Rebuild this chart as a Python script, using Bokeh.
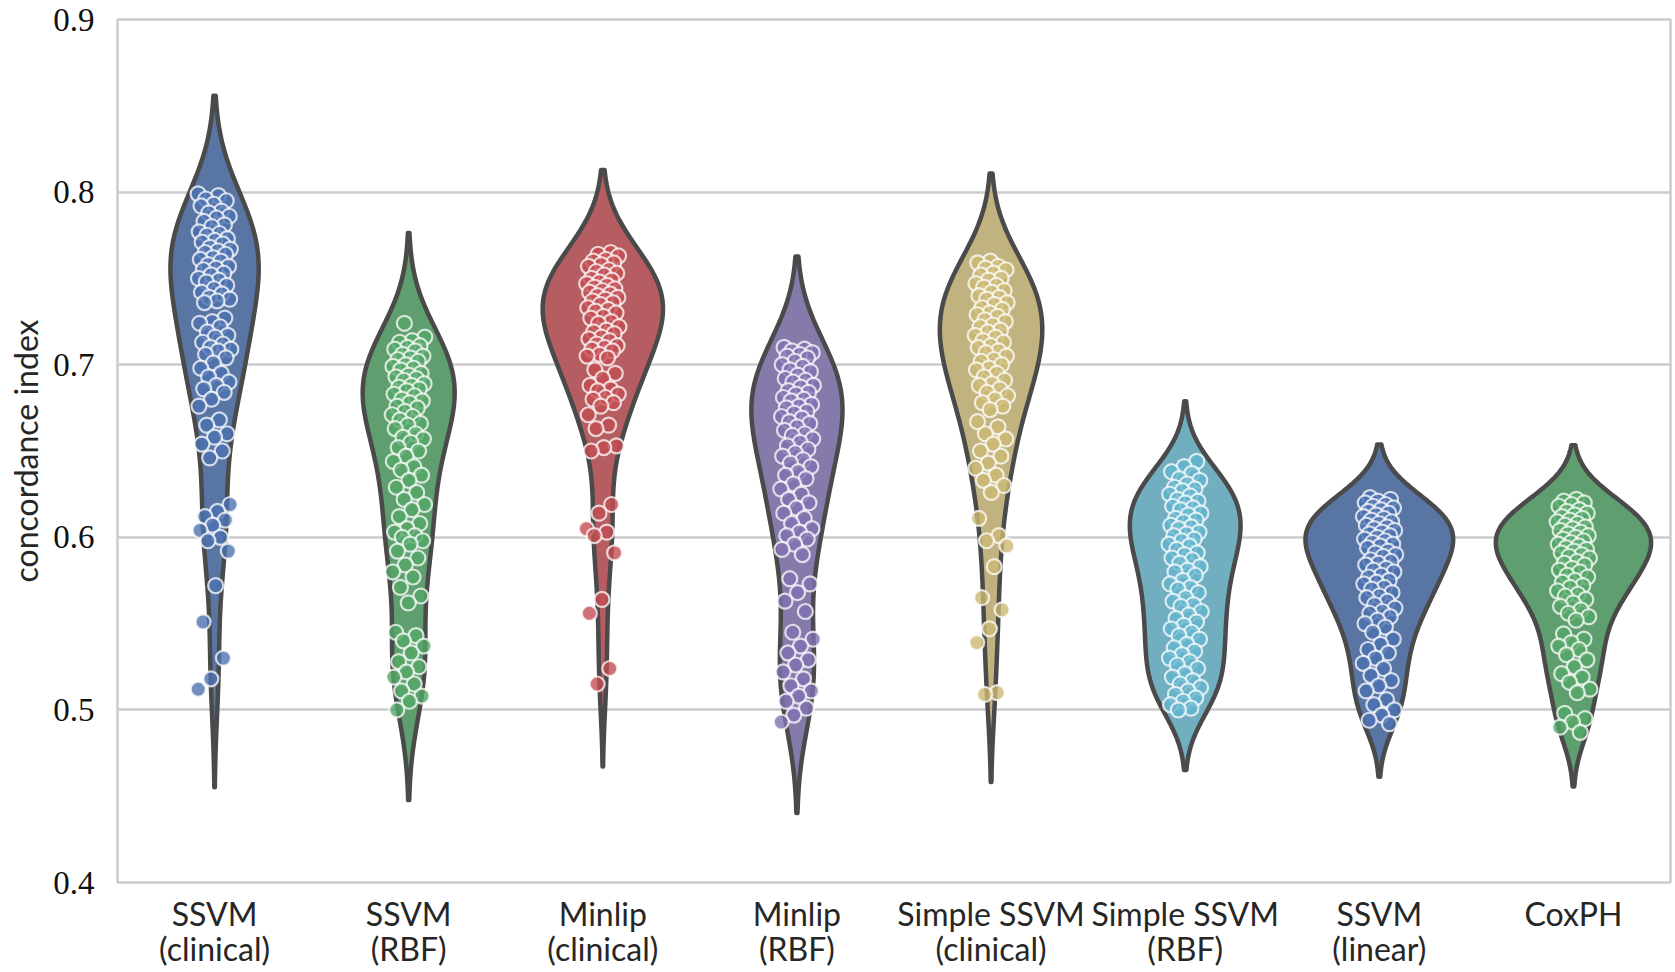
import colorsys
import numpy as np
from bokeh.plotting import figure
from bokeh.models import Range1d, FixedTicker, ColumnDataSource
from bokeh.embed import file_html
from bokeh.resources import INLINE

# ---------------- data ----------------
categories = ["SSVM\n(clinical)", "SSVM\n(RBF)", "Minlip\n(clinical)", "Minlip\n(RBF)",
              "Simple SSVM\n(clinical)", "Simple SSVM\n(RBF)", "SSVM\n(linear)", "CoxPH"]

y_ticks = [0.4, 0.5, 0.6, 0.7, 0.8, 0.9]
y_tick_labels = ["0.4", "0.5", "0.6", "0.7", "0.8", "0.9"]

ssvm_clinical = [0.799, 0.798, 0.796, 0.795, 0.793, 0.792, 0.789, 0.788, 0.786, 0.785, 0.783, 0.781,
                 0.780, 0.777, 0.776, 0.775, 0.773, 0.772, 0.771, 0.770, 0.768, 0.767, 0.766, 0.765,
                 0.764, 0.762, 0.761, 0.760, 0.758, 0.757, 0.756, 0.755, 0.753, 0.752, 0.750, 0.749,
                 0.748, 0.746, 0.744, 0.742, 0.741, 0.739, 0.738, 0.737, 0.736, 0.727, 0.725, 0.724,
                 0.722, 0.719, 0.717, 0.716, 0.713, 0.712, 0.710, 0.709, 0.708, 0.706, 0.704, 0.701,
                 0.698, 0.695, 0.693, 0.690, 0.688, 0.686, 0.684, 0.680, 0.676, 0.668, 0.665, 0.660,
                 0.658, 0.654, 0.650, 0.646, 0.619, 0.615, 0.612, 0.610, 0.607, 0.604, 0.600, 0.598,
                 0.592, 0.572, 0.551, 0.530, 0.518, 0.512]

ssvm_rbf = [0.724, 0.716, 0.714, 0.713, 0.711, 0.710, 0.709, 0.708, 0.706, 0.705, 0.704, 0.703,
            0.702, 0.700, 0.699, 0.698, 0.697, 0.695, 0.694, 0.693, 0.692, 0.691, 0.689, 0.688,
            0.687, 0.686, 0.685, 0.683, 0.682, 0.680, 0.679, 0.678, 0.676, 0.675, 0.673, 0.671,
            0.670, 0.668, 0.666, 0.665, 0.663, 0.660, 0.658, 0.657, 0.655, 0.652, 0.650, 0.647,
            0.644, 0.641, 0.639, 0.636, 0.633, 0.629, 0.626, 0.622, 0.619, 0.616, 0.612, 0.608,
            0.605, 0.603, 0.601, 0.600, 0.598, 0.596, 0.592, 0.588, 0.584, 0.580, 0.577, 0.571,
            0.566, 0.562, 0.545, 0.543, 0.540, 0.537, 0.533, 0.528, 0.525, 0.522, 0.519, 0.515,
            0.511, 0.508, 0.505, 0.500]

minlip_clinical = [0.765, 0.764, 0.763, 0.761, 0.760, 0.759, 0.758, 0.757, 0.755, 0.754, 0.753, 0.752,
                   0.750, 0.749, 0.748, 0.747, 0.746, 0.745, 0.744, 0.743, 0.742, 0.741, 0.740, 0.739,
                   0.738, 0.737, 0.736, 0.735, 0.733, 0.732, 0.731, 0.730, 0.728, 0.727, 0.725, 0.724,
                   0.722, 0.720, 0.719, 0.718, 0.716, 0.715, 0.714, 0.712, 0.711, 0.710, 0.709, 0.708,
                   0.706, 0.705, 0.704, 0.697, 0.695, 0.692, 0.688, 0.686, 0.685, 0.683, 0.681,
                   0.680, 0.678, 0.676, 0.671, 0.665, 0.663, 0.653, 0.652, 0.650, 0.619, 0.614, 0.605,
                   0.603, 0.601, 0.591, 0.564, 0.556, 0.524, 0.515]

minlip_rbf = [0.710, 0.709, 0.708, 0.707, 0.706, 0.705, 0.704, 0.702, 0.700, 0.699, 0.697, 0.696,
              0.694, 0.692, 0.691, 0.690, 0.688, 0.687, 0.685, 0.684, 0.683, 0.681, 0.680, 0.679,
              0.677, 0.676, 0.675, 0.673, 0.672, 0.670, 0.669, 0.667, 0.666, 0.664, 0.662, 0.660,
              0.659, 0.657, 0.655, 0.653, 0.651, 0.649, 0.647, 0.645, 0.643, 0.641, 0.638, 0.636,
              0.634, 0.631, 0.628, 0.625, 0.622, 0.620, 0.617, 0.614, 0.611, 0.608, 0.605, 0.603,
              0.601, 0.599, 0.596, 0.593, 0.590, 0.576, 0.573, 0.568, 0.563, 0.557, 0.545, 0.541,
              0.537, 0.533, 0.529, 0.526, 0.522, 0.518, 0.514, 0.511, 0.508, 0.505, 0.501, 0.497,
              0.493]

simple_clinical = [0.760, 0.759, 0.757, 0.756, 0.755, 0.753, 0.752, 0.750, 0.749, 0.747, 0.746, 0.745,
                   0.743, 0.742, 0.740, 0.739, 0.738, 0.736, 0.735, 0.733, 0.732, 0.730, 0.729, 0.728,
                   0.726, 0.725, 0.723, 0.722, 0.720, 0.719, 0.717, 0.716, 0.714, 0.713, 0.711, 0.710,
                   0.708, 0.707, 0.705, 0.703, 0.702, 0.700, 0.698, 0.697, 0.695, 0.693, 0.691, 0.689,
                   0.688, 0.686, 0.684, 0.682, 0.680, 0.678, 0.676, 0.674, 0.667, 0.664, 0.660, 0.657,
                   0.654, 0.650, 0.647, 0.643, 0.640, 0.636, 0.633, 0.630, 0.626, 0.611, 0.601, 0.598,
                   0.595, 0.583, 0.565, 0.558, 0.547, 0.539, 0.510, 0.509]

simple_rbf = [0.644, 0.641, 0.638, 0.637, 0.634, 0.633, 0.631, 0.629, 0.628, 0.627, 0.625, 0.624,
              0.622, 0.621, 0.620, 0.618, 0.617, 0.616, 0.614, 0.613, 0.611, 0.610, 0.609, 0.607,
              0.606, 0.605, 0.603, 0.602, 0.601, 0.599, 0.598, 0.596, 0.595, 0.593, 0.591, 0.590,
              0.588, 0.587, 0.585, 0.583, 0.581, 0.580, 0.578, 0.575, 0.573, 0.571, 0.570, 0.568,
              0.565, 0.563, 0.561, 0.560, 0.557, 0.555, 0.553, 0.551, 0.549, 0.547, 0.545, 0.543,
              0.541, 0.538, 0.536, 0.534, 0.532, 0.530, 0.528, 0.526, 0.524, 0.521, 0.519, 0.517,
              0.515, 0.513, 0.511, 0.509, 0.507, 0.505, 0.503, 0.501, 0.500]

ssvm_linear = [0.623, 0.622, 0.621, 0.620, 0.619, 0.618, 0.617, 0.616, 0.615, 0.614, 0.613, 0.612,
               0.611, 0.610, 0.609, 0.608, 0.607, 0.606, 0.605, 0.604, 0.603, 0.602, 0.601, 0.600,
               0.599, 0.598, 0.597, 0.596, 0.595, 0.594, 0.592, 0.591, 0.590, 0.589, 0.587, 0.586,
               0.585, 0.584, 0.582, 0.581, 0.580, 0.578, 0.577, 0.575, 0.574, 0.573, 0.571, 0.570,
               0.568, 0.566, 0.565, 0.563, 0.561, 0.559, 0.557, 0.556, 0.554, 0.552, 0.550, 0.548,
               0.545, 0.541, 0.538, 0.535, 0.533, 0.530, 0.527, 0.524, 0.520, 0.517, 0.514, 0.511,
               0.506, 0.503, 0.500, 0.497, 0.494, 0.492]

coxph = [0.622, 0.621, 0.620, 0.619, 0.618, 0.616, 0.615, 0.614, 0.613, 0.612, 0.611, 0.610,
         0.609, 0.608, 0.607, 0.606, 0.605, 0.604, 0.603, 0.602, 0.601, 0.600, 0.599, 0.598,
         0.597, 0.596, 0.595, 0.594, 0.593, 0.592, 0.591, 0.590, 0.589, 0.588, 0.586, 0.585,
         0.584, 0.582, 0.581, 0.580, 0.578, 0.577, 0.575, 0.574, 0.572, 0.571, 0.569, 0.567,
         0.566, 0.564, 0.562, 0.560, 0.558, 0.556, 0.554, 0.552, 0.544, 0.541, 0.539, 0.537,
         0.535, 0.532, 0.529, 0.525, 0.521, 0.519, 0.516, 0.512, 0.510, 0.498, 0.495, 0.493,
         0.490, 0.487]

series = [ssvm_clinical, ssvm_rbf, minlip_clinical, minlip_rbf,
          simple_clinical, simple_rbf, ssvm_linear, coxph]

palette = ["#4C72B0", "#55A868", "#C44E52", "#8172B2", "#CCB974", "#64B5CD", "#4C72B0", "#55A868"]

# ---------------- helpers ----------------
def desaturate(hexc, prop=0.75):
    r, g, b = [int(hexc[i:i + 2], 16) / 255 for i in (1, 3, 5)]
    h, l, s = colorsys.rgb_to_hls(r, g, b)
    r, g, b = colorsys.hls_to_rgb(h, l, s * prop)
    return "#%02x%02x%02x" % tuple(int(round(c * 255)) for c in (r, g, b))


def kde(vals, cut=2.0, npts=200):
    x = np.asarray(vals, dtype=float)
    n = len(x)
    bw = x.std(ddof=1) * n ** (-0.2)
    grid = np.linspace(x.min() - cut * bw, x.max() + cut * bw, npts)
    d = np.exp(-0.5 * ((grid[:, None] - x[None, :]) / bw) ** 2).sum(1) / (n * bw * np.sqrt(2 * np.pi))
    return grid, d


# ---------------- figure ----------------
p = figure(width=1675, height=972,
           x_range=Range1d(-0.5, 7.5), y_range=Range1d(0.4, 0.9),
           output_backend="svg", toolbar_location=None,
           min_border_left=117, min_border_right=5, min_border_top=19, min_border_bottom=90)
p.background_fill_color = "white"
p.border_fill_color = "white"
p.outline_line_color = "#cccccc"
p.outline_line_width = 2.5

p.xgrid.visible = False
p.ygrid.grid_line_color = "#cccccc"
p.ygrid.grid_line_width = 2.5
p.ygrid.ticker = FixedTicker(ticks=y_ticks)

p.yaxis.ticker = FixedTicker(ticks=y_ticks)
p.yaxis.major_label_overrides = {t: s for t, s in zip(y_ticks, y_tick_labels)}
p.xaxis.ticker = FixedTicker(ticks=list(range(len(categories))))
p.xaxis.major_label_overrides = {i: c for i, c in enumerate(categories)}

for ax in (p.xaxis, p.yaxis):
    ax.axis_line_color = None
    ax.major_tick_line_color = None
    ax.minor_tick_line_color = None

p.yaxis.major_label_text_font = "Liberation Serif"
p.yaxis.major_label_text_font_size = "33px"
p.yaxis.major_label_text_color = "#111111"
p.yaxis.major_label_standoff = 17
p.yaxis.axis_label = "concordance index"
p.yaxis.axis_label_text_font = "Lato"
p.yaxis.axis_label_text_font_size = "32px"
p.yaxis.axis_label_text_font_style = "normal"
p.yaxis.axis_label_text_color = "#262626"
p.yaxis.axis_label_standoff = 5

p.xaxis.major_label_text_font = "Lato"
p.xaxis.major_label_text_font_size = "32px"
p.xaxis.major_label_text_color = "#262626"
p.xaxis.major_label_text_line_height = 0.92
p.xaxis.major_label_standoff = 5

# violins
kdes = [kde(s) for s in series]
gmax = max(d.max() for _, d in kdes)
half_width = 0.4
for i, ((grid, d), col) in enumerate(zip(kdes, palette)):
    hw = half_width * d / gmax
    xs = np.concatenate([i + hw, (i - hw)[::-1]])
    ys = np.concatenate([grid, grid[::-1]])
    p.patch(xs, ys, fill_color=desaturate(col), line_color="#4a4a4a",
            line_width=4.5, line_join="round")

# strip points with deterministic jitter
px, py, pc = [], [], []
for i, (s, col) in enumerate(zip(series, palette)):
    for k, v in enumerate(s):
        j = ((k * 0.6180339887 + i * 0.37) % 1.0) * 2 - 1
        px.append(i + 0.085 * j)
        py.append(v)
        pc.append(col)
src = ColumnDataSource(dict(x=px, y=py, c=pc))
p.scatter("x", "y", source=src, size=15, fill_color="c", fill_alpha=0.8,
          line_color="white", line_width=2.2, line_alpha=0.75)

open("out.html", "w").write(file_html(p, INLINE))
